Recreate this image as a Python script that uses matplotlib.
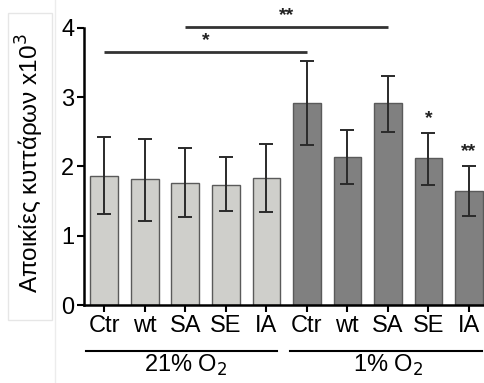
import matplotlib
matplotlib.use("Agg")
import matplotlib.pyplot as plt
from matplotlib.patches import Rectangle
from matplotlib.lines import Line2D

plt.rcParams['font.family'] = ['Liberation Sans', 'DejaVu Sans']

labels = ["Ctr", "wt", "SA", "SE", "IA", "Ctr", "wt", "SA", "SE", "IA"]
means = [1.87, 1.82, 1.76, 1.74, 1.84, 2.92, 2.14, 2.91, 2.12, 1.65]
err_hi = [2.42, 2.40, 2.26, 2.13, 2.33, 3.52, 2.52, 3.31, 2.49, 2.01]
err_lo = [1.32, 1.22, 1.27, 1.36, 1.35, 2.31, 1.75, 2.50, 1.73, 1.29]
groups = ["21% O$_2$", "1% O$_2$"]
bar_stars = {8: "*", 9: "**"}
brackets = [(0, 5, 3.65, "*"), (2, 7, 4.01, "**")]

colors = ["#cfcfcb"] * 5 + ["#808080"] * 5

fig = plt.figure(figsize=(4.85, 3.83), dpi=100)
ax = fig.add_axes([84 / 485, 78 / 383, 401 / 485, 4.4 * 69.25 / 383])

x = list(range(len(labels)))
yerr = [[m - lo for m, lo in zip(means, err_lo)], [hi - m for m, hi in zip(means, err_hi)]]
ax.bar(x, means, width=0.68, color=colors, edgecolor="#5a5a5a", linewidth=1.0, zorder=2)
ax.errorbar(x, means, yerr=yerr, fmt="none", ecolor="#2a2a2a", elinewidth=1.4,
            capsize=5, capthick=1.4, zorder=3)

for i, s in bar_stars.items():
    ax.text(i, err_hi[i] + 0.08, s, ha="center", va="bottom", fontsize=14,
            fontweight="bold", color="#222222")

for a, b, y, s in brackets:
    ax.plot([a, b], [y, y], color="#333333", lw=2, solid_capstyle="butt", clip_on=False)
    ax.text((a + b) / 2, y + 0.05, s, ha="center", va="bottom", fontsize=14,
            fontweight="bold", color="#222222")

ax.set_xlim(-0.5, 9.4)
ax.set_ylim(0, 4.4)
ax.set_yticks([0, 1, 2, 3, 4])
ax.set_xticks(x)
ax.set_xticklabels(labels, fontsize=17)
ax.tick_params(axis="y", labelsize=17, width=1.5, length=5, direction="out", pad=2)
ax.tick_params(axis="x", width=1.5, length=5, direction="out", pad=2)
for sp in ["top", "right"]:
    ax.spines[sp].set_visible(False)
ax.spines["left"].set_bounds(0, 4)
ax.spines["left"].set_linewidth(1.8)
ax.spines["bottom"].set_linewidth(1.8)

# group lines and labels below the axis
gl = [(86, 277, 2), (290, 482, 7)]
for (x0, x1, c), g in zip(gl, groups):
    fig.add_artist(Line2D([x0 / 485, x1 / 485], [1 - 351 / 383] * 2, color="black", lw=1.5))
    xc = ax.transData.transform((c, 0))[0] / 485
    fig.text(xc, 1 - 353 / 383, g, ha="center", va="top", fontsize=17)

# faint box around the y label
fig.add_artist(Rectangle((8 / 485, 1 - 320 / 383), 44 / 485, 307 / 383,
                         fill=False, edgecolor="#e6e6e6", lw=1))
fig.add_artist(Line2D([55 / 485, 55 / 485], [0, 1], color="#ececec", lw=1))
fig.text(30 / 485, 1 - 163 / 383, "Αποικίες κυττάρων x10$^3$", rotation=90,
         ha="center", va="center", fontsize=17.5)

fig.savefig("out.png", dpi=100)
